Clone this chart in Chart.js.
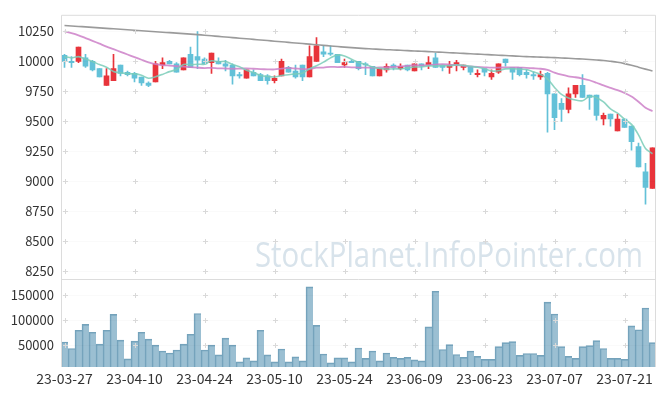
<!DOCTYPE html>
<html><head><meta charset="utf-8">
<script src="https://cdn.jsdelivr.net/npm/chart.js@4.4.1/dist/chart.umd.min.js"></script>
<style>html,body{margin:0;padding:0;background:#fff;}canvas{display:block;}</style>
</head><body>
<canvas id="c" width="665" height="396"></canvas>
<script>
const categories = [
'23-03-27','23-03-28','23-03-29','23-03-30','23-03-31','23-04-03','23-04-04','23-04-05','23-04-06','23-04-07',
'23-04-10','23-04-11','23-04-12','23-04-13','23-04-14','23-04-17','23-04-18','23-04-19','23-04-20','23-04-21',
'23-04-24','23-04-25','23-04-26','23-04-27','23-04-28','23-05-02','23-05-03','23-05-04','23-05-08','23-05-09',
'23-05-10','23-05-11','23-05-12','23-05-15','23-05-16','23-05-17','23-05-18','23-05-19','23-05-22','23-05-23',
'23-05-24','23-05-25','23-05-26','23-05-30','23-05-31','23-06-01','23-06-02','23-06-05','23-06-07','23-06-08',
'23-06-09','23-06-12','23-06-13','23-06-14','23-06-15','23-06-16','23-06-19','23-06-20','23-06-21','23-06-22',
'23-06-23','23-06-26','23-06-27','23-06-28','23-06-29','23-06-30','23-07-03','23-07-04','23-07-05','23-07-06',
'23-07-07','23-07-10','23-07-11','23-07-12','23-07-13','23-07-14','23-07-17','23-07-18','23-07-19','23-07-20',
'23-07-21','23-07-24','23-07-25','23-07-26','23-07-27'];

const xTickLabels = ['23-03-27','23-04-10','23-04-24','23-05-10','23-05-24','23-06-09','23-06-23','23-07-07','23-07-21'];
const priceTicks = [8250, 8500, 8750, 9000, 9250, 9500, 9750, 10000, 10250];
const volumeTicks = [50000, 100000, 150000];

const openP = [
10050,10000,10000,10030,10000,9940,9800,9840,9970,9910,
9900,9870,9820,9830,9970,10000,9980,9930,10060,10040,
10020,9990,10000,9980,9970,9890,9860,9910,9890,9880,
9840,9880,9950,9920,9970,9870,10000,10080,10070,10060,
9970,10000,10000,9980,9960,9880,9930,9970,9940,9970,
9920,9980,9970,10030,9970,9950,9970,9950,9960,9890,
9940,9870,9910,10020,9950,9950,9910,9890,9870,9900,
9730,9650,9600,9730,9800,9720,9720,9520,9560,9420,
9520,9460,9290,9080,8940];
const highP = [
10060,10040,10120,10060,10010,9940,9940,10060,9970,9920,
9910,9870,9830,10000,10030,10010,9990,10030,10120,10250,
10030,10070,10030,10010,9980,9910,9930,9930,9900,9890,
9880,10020,9960,9970,9970,10130,10200,10130,10130,10060,
10020,10010,10000,9990,9960,9940,9980,9980,9980,9970,
9980,9980,10040,10070,9970,10000,10010,9970,9960,9930,
9940,9930,9980,10020,9950,9950,9930,9910,9920,9910,
9730,9690,9780,9800,9890,9720,9720,9570,9560,9560,
9520,9460,9320,9150,9280];
const lowP = [
9950,9950,9990,9950,9920,9870,9800,9840,9880,9880,
9830,9800,9790,9830,9940,9980,9910,9930,9950,9940,
9980,9900,9980,9920,9810,9860,9860,9880,9840,9810,
9820,9880,9910,9860,9840,9870,10000,10040,10050,9990,
9950,9990,9930,9890,9880,9880,9910,9930,9930,9920,
9920,9930,9940,9950,9920,9900,9920,9930,9890,9870,
9880,9850,9900,9960,9850,9880,9860,9850,9850,9410,
9430,9500,9570,9700,9700,9600,9510,9470,9460,9420,
9450,9260,9120,8810,8940];
const closeP = [
10000,9990,10120,9960,9930,9870,9880,9940,9900,9890,
9860,9820,9800,9980,9990,9980,9910,10030,9950,10010,
9980,10070,9980,9960,9880,9880,9930,9880,9840,9840,
9860,10000,9910,9870,9870,10040,10130,10060,10060,9990,
9990,9990,9940,9970,9880,9940,9960,9950,9960,9930,
9980,9960,9990,9950,9950,9970,9990,9970,9910,9900,
9910,9900,9980,9990,9910,9890,9890,9880,9890,9730,
9530,9600,9730,9800,9700,9700,9550,9550,9520,9520,
9450,9330,9120,8950,9280];
const volume = [
55000,42000,79000,91000,75000,51000,79000,111000,59000,21000,
57000,75000,61000,49000,37000,33000,39000,51000,71000,113000,
39000,49000,29000,63000,49000,15000,23000,17000,79000,29000,
15000,41000,15000,25000,17000,167000,89000,31000,13000,23000,
23000,15000,43000,22000,37000,17000,33000,24000,22000,24000,
19000,17000,86000,158000,40000,50000,30000,24000,37000,26000,
20000,20000,46000,54000,56000,28000,32000,32000,28000,136000,
112000,46000,26000,22000,46000,48000,58000,42000,22000,22000,
20000,88000,80000,124000,54000];
const maShort = [
10040,10030,10040,10020,10000,9974,9952,9917,9905,9898,
9896,9885,9860,9872,9892,9915,9933,9975,9973,9977,
9977,10005,9998,10000,9975,9955,9927,9908,9883,9875,
9870,9883,9889,9896,9902,9938,9964,9994,10030,10054,
10046,10018,9992,9975,9953,9942,9936,9939,9937,9946,
9954,9954,9963,9961,9965,9964,9971,9967,9959,9951,
9939,9921,9922,9938,9940,9935,9932,9913,9892,9855,
9783,9725,9695,9678,9672,9708,9698,9662,9604,9569,
9519,9475,9388,9274,9230];
const maMid = [
10250,10236,10218,10195,10172,10148,10124,10102,10080,10058,
10036,10014,9993,9978,9970,9965,9960,9956,9952,9948,
9945,9947,9942,9941,9939,9940,9942,9939,9936,9934,
9933,9940,9946,9941,9936,9938,9948,9949,9955,9953,
9954,9951,9949,9948,9948,9950,9951,9955,9959,9963,
9968,9967,9970,9974,9977,9974,9969,9964,9958,9954,
9951,9948,9949,9950,9951,9949,9946,9943,9939,9929,
9907,9889,9876,9868,9857,9843,9822,9800,9780,9760,
9737,9708,9664,9613,9585];
const maLong = [
10300,10296,10292,10288,10284,10280,10276,10272,10268,10264,
10260,10256,10252,10248,10244,10240,10236,10232,10228,10224,
10219,10214,10209,10204,10199,10194,10189,10184,10179,10174,
10169,10164,10159,10154,10149,10144,10139,10134,10129,10124,
10119,10115,10111,10107,10104,10101,10098,10096,10093,10090,
10087,10085,10082,10079,10076,10073,10070,10067,10064,10061,
10058,10055,10052,10049,10046,10043,10040,10038,10036,10034,
10032,10029,10026,10023,10020,10016,10012,10008,10001,9993,
9982,9968,9952,9936,9920];

const UP = '#e8343b', DOWN = '#63c1d8';
const candleColors = closeP.map((c, i) => c >= openP[i] ? UP : DOWN);
const FONT = '"Noto Sans CJK KR", "Noto Sans", sans-serif';

const decor = {
  id: 'decor',
  beforeDatasetsDraw(chart) {
    const { ctx, chartArea: a, scales } = chart;
    const y = scales.y;
    ctx.save();
    ctx.font = '34px "Open Sans"';
    const text = 'StockPlanet.InfoPointer.com';
    const w = ctx.measureText(text).width;
    const sx = 388 / w;
    ctx.translate(a.right - 13, y.bottom - 12);
    ctx.scale(sx, 1);
    ctx.fillStyle = '#d8e3eb';
    ctx.textAlign = 'right';
    ctx.textBaseline = 'alphabetic';
    ctx.fillText(text, 0, 0);
    ctx.restore();
  },
  afterDatasetsDraw(chart) {
    const { ctx, chartArea: a, scales } = chart;
    const x = scales.x, y = scales.y, yv = scales.yVol;
    const xs = xTickLabels.map(l => x.getPixelForValue(categories.indexOf(l)));
    const ys = priceTicks.map(v => y.getPixelForValue(v)).concat(volumeTicks.map(v => yv.getPixelForValue(v)));
    ctx.save();
    ctx.strokeStyle = 'rgba(0,0,0,0.02)';
    ctx.lineWidth = 1;
    ctx.beginPath();
    ys.forEach(py => { const p = Math.round(py) + 0.5; ctx.moveTo(a.left, p); ctx.lineTo(a.right, p); });
    ctx.stroke();
    ctx.strokeStyle = '#d9d9d9';
    ctx.beginPath();
    xs.forEach(px => ys.forEach(py => {
      const cx = Math.round(px) + 0.5, cy = Math.round(py) + 0.5;
      ctx.moveTo(cx - 2.5, cy); ctx.lineTo(cx + 2.5, cy);
      ctx.moveTo(cx, cy - 2.5); ctx.lineTo(cx, cy + 2.5);
    }));
    ctx.stroke();
    ctx.strokeStyle = '#dcdcdc';
    ctx.beginPath();
    ctx.moveTo(a.left + 0.5, a.bottom); ctx.lineTo(a.left + 0.5, a.top + 0.5);
    ctx.lineTo(a.right - 0.5, a.top + 0.5); ctx.lineTo(a.right - 0.5, a.bottom);
    const sep = Math.round(y.bottom) + 0.5;
    ctx.moveTo(a.left, sep); ctx.lineTo(a.right, sep);
    ctx.stroke();
    ctx.restore();
  }
};

new Chart(document.getElementById('c'), {
  type: 'bar',
  data: {
    labels: categories,
    datasets: [
      { type: 'line', label: 'MA5', data: maShort, yAxisID: 'y', borderColor: 'rgba(122,204,184,0.85)', borderWidth: 1.6, pointRadius: 0, tension: 0.3, order: 0 },
      { type: 'line', label: 'MA20', data: maMid, yAxisID: 'y', borderColor: 'rgba(204,128,200,0.85)', borderWidth: 1.8, pointRadius: 0, tension: 0.3, order: 0 },
      { type: 'line', label: 'MA120', data: maLong, yAxisID: 'y', borderColor: 'rgba(150,150,150,0.95)', borderWidth: 1.6, pointRadius: 0, tension: 0.3, order: 0 },
      { label: 'wick', data: lowP.map((l, i) => [l, highP[i]]), yAxisID: 'y', backgroundColor: candleColors, barThickness: 1, grouped: false, order: 2 },
      { label: 'body', data: openP.map((o, i) => [o, closeP[i]]), yAxisID: 'y', backgroundColor: candleColors, barThickness: 5, minBarLength: 1, grouped: false, order: 1 },
      { label: 'volume', data: volume, yAxisID: 'yVol', backgroundColor: 'rgba(122,170,195,0.75)', borderColor: '#74a2ba', borderWidth: { left: 1, top: 1, right: 0, bottom: 0 }, borderSkipped: false, barPercentage: 1, categoryPercentage: 1, grouped: false, order: 3 }
    ]
  },
  options: {
    responsive: false,
    animation: false,
    layout: { padding: { top: 10, right: 9, left: 0, bottom: 0 } },
    plugins: { legend: { display: false }, tooltip: { enabled: false } },
    scales: {
      x: {
        type: 'category', offset: true,
        grid: { display: false, drawTicks: false }, border: { display: false },
        ticks: { autoSkip: false, maxRotation: 0, minRotation: 0, padding: 3, color: '#333', font: { family: FONT, size: 14 },
          callback(v, i) { const l = categories[i]; return xTickLabels.includes(l) ? l : ''; } },
        afterFit(s) { s.height = 29; }
      },
      yVol: {
        stack: 'p', stackWeight: 1, position: 'left', min: 4600, max: 182000,
        grid: { display: false, drawTicks: false }, border: { display: false },
        afterBuildTicks(s) { s.ticks = volumeTicks.map(v => ({ value: v })); },
        ticks: { autoSkip: false, padding: 7, color: '#333', font: { family: FONT, size: 13 }, callback: v => String(v) },
        afterFit(s) { s.width = 61; }
      },
      y: {
        stack: 'p', stackWeight: 3.02, position: 'left', min: 8182, max: 10389,
        grid: { display: false, drawTicks: false }, border: { display: false },
        afterBuildTicks(s) { s.ticks = priceTicks.map(v => ({ value: v })); },
        ticks: { autoSkip: false, padding: 7, color: '#333', font: { family: FONT, size: 13 }, callback: v => String(v) },
        afterFit(s) { s.width = 61; }
      }
    }
  },
  plugins: [decor]
});
</script>
</body></html>
